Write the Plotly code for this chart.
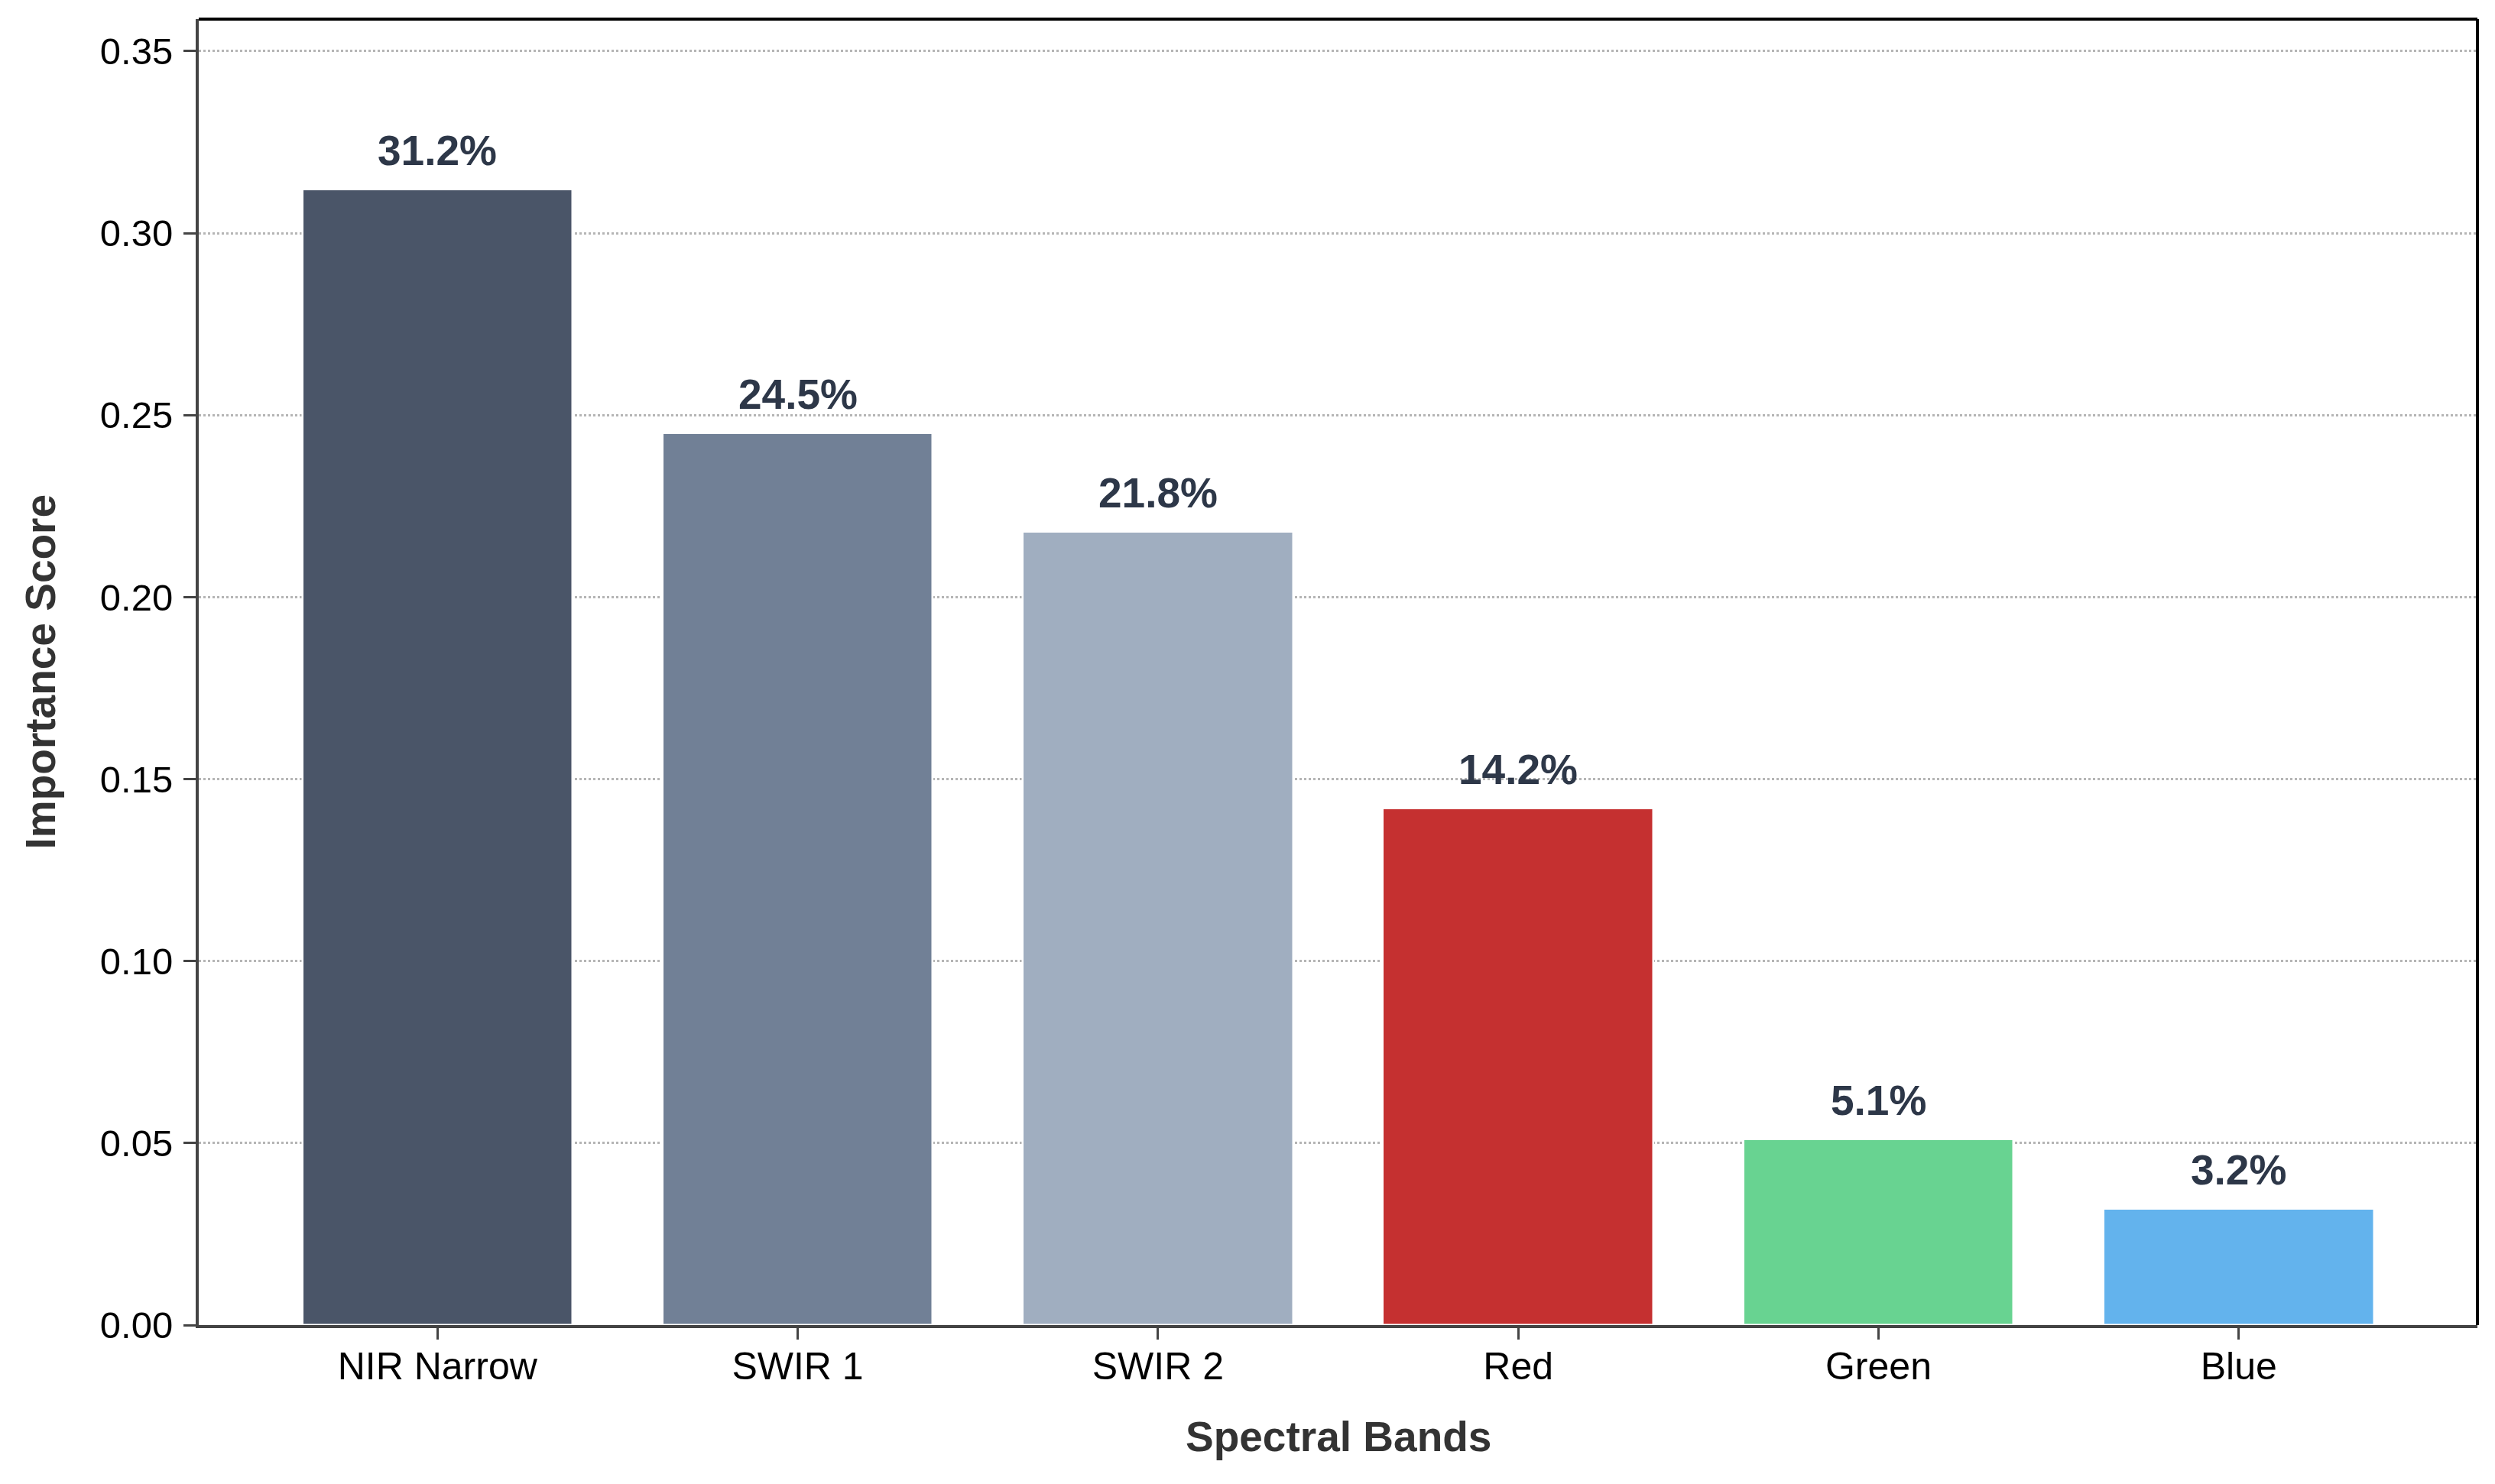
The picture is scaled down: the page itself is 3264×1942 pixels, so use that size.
import plotly.graph_objects as go

bands = ["NIR Narrow", "SWIR 1", "SWIR 2", "Red", "Green", "Blue"]
importance = [0.312, 0.245, 0.218, 0.142, 0.051, 0.032]
colors = ["#4a5568", "#718096", "#a0aec0", "#c53030", "#68d391", "#63b3ed"]
y_ticks = [0.00, 0.05, 0.10, 0.15, 0.20, 0.25, 0.30, 0.35]
y_tick_labels = ["0.00", "0.05", "0.10", "0.15", "0.20", "0.25", "0.30", "0.35"]

W, H = 3264, 1942
L, R, T, B = 260, 23, 25, 208
FONT = "Liberation Sans, Arial, sans-serif"

fig = go.Figure()
fig.add_trace(go.Bar(
    x=list(range(len(bands))), y=importance, width=0.75,
    marker=dict(color=colors, line=dict(color="white", width=2.5)),
    showlegend=False, hoverinfo="skip"))

for i, v in enumerate(importance):
    fig.add_annotation(x=i, y=v, text=f"<b>{v*100:.1f}%</b>", showarrow=False,
                       yanchor="bottom", yshift=18,
                       font=dict(family=FONT, size=55, color="#2d3748"))

pw = W - L - R
ph = H - T - B
fig.add_annotation(xref="paper", yref="paper", x=(52 - L) / pw, y=0.5,
                   text="<b>Importance Score</b>", textangle=-90, showarrow=False,
                   xanchor="center", yanchor="middle",
                   font=dict(family=FONT, size=55, color="#333333"))
fig.add_annotation(xref="paper", yref="paper", x=0.5, y=(T + ph - 1880) / ph,
                   text="<b>Spectral Bands</b>", showarrow=False,
                   xanchor="center", yanchor="middle",
                   font=dict(family=FONT, size=55, color="#333333"))

# top and right spines (black)
fig.add_shape(type="line", xref="paper", yref="paper", x0=0, x1=1, y0=1, y1=1,
              line=dict(color="black", width=4))
fig.add_shape(type="line", xref="paper", yref="paper", x0=1, x1=1, y0=0, y1=1,
              line=dict(color="black", width=4))

fig.update_xaxes(range=[-0.6625, 5.6625], tickmode="array",
                 tickvals=list(range(len(bands))), ticktext=bands,
                 showgrid=False, zeroline=False, automargin=False,
                 showline=True, linecolor="#444444", linewidth=4,
                 ticks="outside", ticklen=15, tickwidth=3, tickcolor="#444444",
                 ticklabelstandoff=-8,
                 tickfont=dict(family=FONT, size=50, color="black"))
fig.update_yaxes(range=[0, 0.3588], tickmode="array", tickvals=y_ticks,
                 ticktext=y_tick_labels, showgrid=True, gridcolor="#b5b5b5",
                 griddash="dot", gridwidth=2.5, zeroline=False, automargin=False,
                 showline=True, linecolor="#444444", linewidth=4,
                 ticks="outside", ticklen=16, tickwidth=3, tickcolor="#444444",
                 ticklabelstandoff=4,
                 tickfont=dict(family=FONT, size=49, color="black"))

fig.update_layout(width=W, height=H, margin=dict(l=L, r=R, t=T, b=B),
                  plot_bgcolor="white", paper_bgcolor="white", bargap=0)

fig.write_html("out.html", config={"displayModeBar": False},
               post_script="document.body.style.margin='0';document.body.style.padding='0';")
